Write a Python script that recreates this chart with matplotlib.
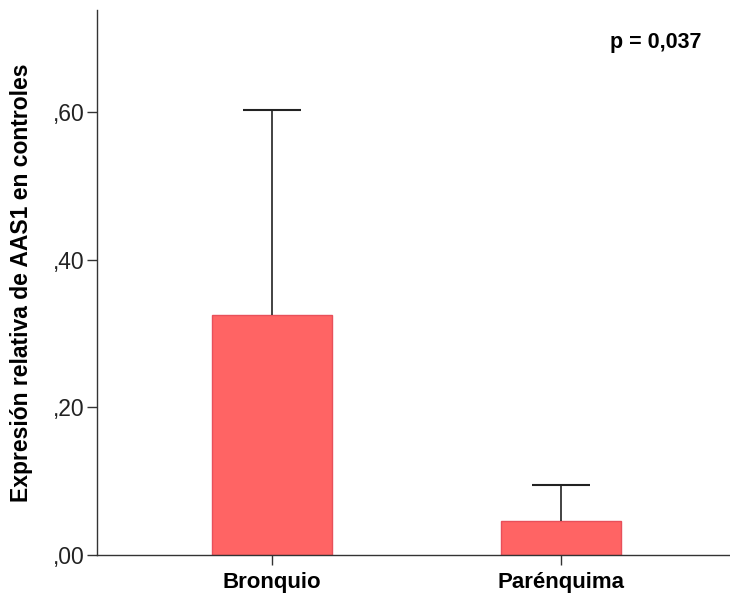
import matplotlib.pyplot as plt
from matplotlib.ticker import FixedLocator

# Expression data (mean and upper error)
categories = ["Bronquio", "Parénquima"]
means = [0.325, 0.046]
errors = [0.277, 0.049]
y_ticks = [0.0, 0.2, 0.4, 0.6]
y_tick_labels = [",00", ",20", ",40", ",60"]

plt.rcParams["font.family"] = ["Liberation Sans", "DejaVu Sans"]

fig = plt.figure(figsize=(7.3, 5.98), dpi=100)
ax = fig.add_axes([0.133, 0.0719, 0.867, 0.9114])

x = list(range(len(categories)))
ax.bar(x, means, width=0.414, color="#FF6464", edgecolor="#E8505A",
       linewidth=1.0, zorder=2)
_, caps, _ = ax.errorbar(x, means, yerr=[[0] * len(errors), errors],
                         fmt="none", ecolor="#222222", elinewidth=1.2,
                         capsize=21, capthick=1.5, zorder=3)
# only the upper whisker gets a cap
caps[0].set_visible(False)

ax.set_xlim(-0.603, 1.584)
ax.set_ylim(0, 0.738)
ax.set_xticks(x)
ax.set_xticklabels(categories, fontsize=16, fontweight="bold")
ax.yaxis.set_major_locator(FixedLocator(y_ticks))
ax.set_yticklabels(y_tick_labels, fontsize=16.5, color="#222222")
ax.set_ylabel("Expresión relativa de AAS1 en controles", fontsize=16.5,
              fontweight="bold", labelpad=14)

for side in ["top", "right"]:
    ax.spines[side].set_visible(False)
for side in ["left", "bottom"]:
    ax.spines[side].set_color("#333333")
    ax.spines[side].set_linewidth(1.0)
ax.tick_params(axis="both", length=7, width=1.0, color="#333333")
ax.tick_params(axis="x", pad=5)
ax.tick_params(axis="y", pad=2)

ax.text(0.955, 0.94, "p = 0,037", transform=ax.transAxes, fontsize=15.5,
        fontweight="bold", ha="right", va="center")

fig.savefig("out.png", dpi=100)
